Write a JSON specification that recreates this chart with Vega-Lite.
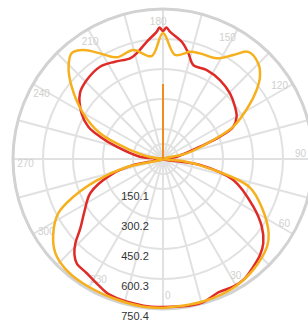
{
  "$schema": "https://vega.github.io/schema/vega-lite/v6.json",
  "width": 308,
  "height": 323,
  "autosize": {"type": "none"},
  "padding": 0,
  "background": "white",
  "config": {"view": {"stroke": null}},
  "datasets": {
    "rings": [
      {"value": 75.0, "label": ""},
      {"value": 150.1, "label": "150.1"},
      {"value": 300.2, "label": "300.2"},
      {"value": 450.2, "label": "450.2"},
      {"value": 600.3, "label": "600.3"},
      {"value": 750.4, "label": "750.4"}
    ],
    "spokes": [
      {"angle": 0, "r": 750.4}, {"angle": 15, "r": 750.4}, {"angle": 30, "r": 750.4}, {"angle": 45, "r": 750.4},
      {"angle": 60, "r": 750.4}, {"angle": 75, "r": 750.4}, {"angle": 90, "r": 750.4}, {"angle": 105, "r": 750.4},
      {"angle": 120, "r": 750.4}, {"angle": 135, "r": 750.4}, {"angle": 150, "r": 750.4}, {"angle": 165, "r": 750.4},
      {"angle": 180, "r": 750.4}, {"angle": 195, "r": 750.4}, {"angle": 210, "r": 750.4}, {"angle": 225, "r": 750.4},
      {"angle": 240, "r": 750.4}, {"angle": 255, "r": 750.4}, {"angle": 270, "r": 750.4}, {"angle": 285, "r": 750.4},
      {"angle": 300, "r": 750.4}, {"angle": 315, "r": 750.4}, {"angle": 330, "r": 750.4}, {"angle": 345, "r": 750.4}
    ],
    "angleLabels": [
      {"angle": 0, "label": "0"}, {"angle": 30, "label": "30"}, {"angle": 60, "label": "60"},
      {"angle": 90, "label": "90"}, {"angle": 120, "label": "120"}, {"angle": 150, "label": "150"},
      {"angle": 180, "label": "180"}, {"angle": 210, "label": "210"}, {"angle": 240, "label": "240"},
      {"angle": 270, "label": "270"}, {"angle": 300, "label": "300"}, {"angle": 330, "label": "330"}
    ],
    "curves": [
      {"series": "C0-180", "angle": 0, "value": 740},
      {"series": "C0-180", "angle": 9, "value": 745},
      {"series": "C0-180", "angle": 15, "value": 745},
      {"series": "C0-180", "angle": 23, "value": 722},
      {"series": "C0-180", "angle": 29, "value": 729},
      {"series": "C0-180", "angle": 34.5, "value": 724},
      {"series": "C0-180", "angle": 40, "value": 703},
      {"series": "C0-180", "angle": 45.3, "value": 683},
      {"series": "C0-180", "angle": 50, "value": 655},
      {"series": "C0-180", "angle": 55.6, "value": 599},
      {"series": "C0-180", "angle": 62.2, "value": 511},
      {"series": "C0-180", "angle": 73.4, "value": 367},
      {"series": "C0-180", "angle": 80.8, "value": 188},
      {"series": "C0-180", "angle": 90, "value": 0},
      {"series": "C0-180", "angle": 99.5, "value": 70},
      {"series": "C0-180", "angle": 108.4, "value": 195},
      {"series": "C0-180", "angle": 111.4, "value": 306},
      {"series": "C0-180", "angle": 114.7, "value": 387},
      {"series": "C0-180", "angle": 119.9, "value": 425},
      {"series": "C0-180", "angle": 126, "value": 445},
      {"series": "C0-180", "angle": 134.4, "value": 469},
      {"series": "C0-180", "angle": 144.2, "value": 487},
      {"series": "C0-180", "angle": 153.8, "value": 496},
      {"series": "C0-180", "angle": 162.1, "value": 494},
      {"series": "C0-180", "angle": 166.5, "value": 544},
      {"series": "C0-180", "angle": 170.9, "value": 594},
      {"series": "C0-180", "angle": 176.9, "value": 638},
      {"series": "C0-180", "angle": 178.5, "value": 658},
      {"series": "C0-180", "angle": 180, "value": 640},
      {"series": "C0-180", "angle": 181.5, "value": 658},
      {"series": "C0-180", "angle": 182.8, "value": 638},
      {"series": "C0-180", "angle": 187.9, "value": 592},
      {"series": "C0-180", "angle": 194, "value": 545},
      {"series": "C0-180", "angle": 198.1, "value": 530},
      {"series": "C0-180", "angle": 206.3, "value": 543},
      {"series": "C0-180", "angle": 214.3, "value": 559},
      {"series": "C0-180", "angle": 224, "value": 549},
      {"series": "C0-180", "angle": 231.6, "value": 530},
      {"series": "C0-180", "angle": 240.7, "value": 467},
      {"series": "C0-180", "angle": 246.6, "value": 407},
      {"series": "C0-180", "angle": 250.5, "value": 334},
      {"series": "C0-180", "angle": 255.1, "value": 240},
      {"series": "C0-180", "angle": 264.3, "value": 116},
      {"series": "C0-180", "angle": 270, "value": 0},
      {"series": "C0-180", "angle": 281.4, "value": 150},
      {"series": "C0-180", "angle": 287, "value": 275},
      {"series": "C0-180", "angle": 295, "value": 400},
      {"series": "C0-180", "angle": 304, "value": 475},
      {"series": "C0-180", "angle": 310, "value": 540},
      {"series": "C0-180", "angle": 314, "value": 610},
      {"series": "C0-180", "angle": 317, "value": 650},
      {"series": "C0-180", "angle": 320.4, "value": 677},
      {"series": "C0-180", "angle": 326.3, "value": 687},
      {"series": "C0-180", "angle": 331.9, "value": 705},
      {"series": "C0-180", "angle": 338.7, "value": 730},
      {"series": "C0-180", "angle": 352.4, "value": 740},
      {"series": "C0-180", "angle": 360, "value": 740},
      {"series": "C90-270", "angle": 0, "value": 745},
      {"series": "C90-270", "angle": 10, "value": 740},
      {"series": "C90-270", "angle": 17, "value": 740},
      {"series": "C90-270", "angle": 28, "value": 735},
      {"series": "C90-270", "angle": 39, "value": 715},
      {"series": "C90-270", "angle": 50, "value": 680},
      {"series": "C90-270", "angle": 55, "value": 645},
      {"series": "C90-270", "angle": 63, "value": 560},
      {"series": "C90-270", "angle": 72, "value": 455},
      {"series": "C90-270", "angle": 78, "value": 255},
      {"series": "C90-270", "angle": 84, "value": 100},
      {"series": "C90-270", "angle": 90, "value": 0},
      {"series": "C90-270", "angle": 103.5, "value": 122},
      {"series": "C90-270", "angle": 110.7, "value": 269},
      {"series": "C90-270", "angle": 114.7, "value": 387},
      {"series": "C90-270", "angle": 121.5, "value": 500},
      {"series": "C90-270", "angle": 126.4, "value": 582},
      {"series": "C90-270", "angle": 130.3, "value": 636},
      {"series": "C90-270", "angle": 135.1, "value": 675},
      {"series": "C90-270", "angle": 141.5, "value": 685},
      {"series": "C90-270", "angle": 145.9, "value": 628},
      {"series": "C90-270", "angle": 151.9, "value": 571},
      {"series": "C90-270", "angle": 160.7, "value": 560},
      {"series": "C90-270", "angle": 165.9, "value": 553},
      {"series": "C90-270", "angle": 173.4, "value": 524},
      {"series": "C90-270", "angle": 180, "value": 630},
      {"series": "C90-270", "angle": 186.3, "value": 518},
      {"series": "C90-270", "angle": 195.2, "value": 565},
      {"series": "C90-270", "angle": 204.5, "value": 559},
      {"series": "C90-270", "angle": 210.8, "value": 615},
      {"series": "C90-270", "angle": 216.2, "value": 675},
      {"series": "C90-270", "angle": 220.8, "value": 699},
      {"series": "C90-270", "angle": 225.7, "value": 660},
      {"series": "C90-270", "angle": 231.6, "value": 583},
      {"series": "C90-270", "angle": 240.2, "value": 460},
      {"series": "C90-270", "angle": 247.8, "value": 340},
      {"series": "C90-270", "angle": 253.6, "value": 190},
      {"series": "C90-270", "angle": 262, "value": 60},
      {"series": "C90-270", "angle": 270, "value": 0},
      {"series": "C90-270", "angle": 283, "value": 200},
      {"series": "C90-270", "angle": 288, "value": 350},
      {"series": "C90-270", "angle": 292.8, "value": 485},
      {"series": "C90-270", "angle": 297.4, "value": 590},
      {"series": "C90-270", "angle": 304.1, "value": 663},
      {"series": "C90-270", "angle": 311.1, "value": 715},
      {"series": "C90-270", "angle": 318.1, "value": 735},
      {"series": "C90-270", "angle": 327, "value": 740},
      {"series": "C90-270", "angle": 340, "value": 740},
      {"series": "C90-270", "angle": 352, "value": 745},
      {"series": "C90-270", "angle": 360, "value": 745}
    ],
    "spike": [{"angle": 180, "value": 375}]
  },
  "layer": [
    {
      "data": {"name": "spokes"},
      "transform": [
        {"calculate": "0", "as": "ox"},
        {"calculate": "datum.r*sin(datum.angle*PI/180)", "as": "sx"},
        {"calculate": "-datum.r*cos(datum.angle*PI/180)", "as": "sy"}
      ],
      "mark": {"type": "rule", "color": "#e1e1e1", "strokeWidth": 2},
      "encoding": {
        "x": {"field": "ox", "type": "quantitative", "scale": {"domain": [-815.4, 725.4], "nice": false, "zero": false}, "axis": null},
        "y": {"field": "ox", "type": "quantitative", "scale": {"domain": [-820.4, 795.4], "nice": false, "zero": false}, "axis": null},
        "x2": {"field": "sx"},
        "y2": {"field": "sy"}
      }
    },
    {
      "data": {"name": "rings"},
      "transform": [{"filter": "datum.value < 700"}, {"calculate": "0", "as": "ox"}],
      "mark": {"type": "point", "shape": "circle", "filled": false, "color": "#e1e1e1", "strokeWidth": 2, "opacity": 1},
      "encoding": {
        "x": {"field": "ox", "type": "quantitative"},
        "y": {"field": "ox", "type": "quantitative"},
        "size": {"field": "value", "type": "quantitative", "scale": {"type": "pow", "exponent": 2, "domain": [0, 750.4], "range": [0, 90000]}, "legend": null}
      }
    },
    {
      "data": {"name": "rings"},
      "transform": [{"filter": "datum.value > 700"}, {"calculate": "0", "as": "ox"}],
      "mark": {"type": "point", "shape": "circle", "filled": false, "color": "#d2d2d2", "strokeWidth": 3, "opacity": 1},
      "encoding": {
        "x": {"field": "ox", "type": "quantitative"},
        "y": {"field": "ox", "type": "quantitative"},
        "size": {"field": "value", "type": "quantitative", "scale": {"type": "pow", "exponent": 2, "domain": [0, 750.4], "range": [0, 90000]}, "legend": null}
      }
    },
    {
      "data": {"name": "angleLabels"},
      "transform": [
        {"calculate": "688*sin((datum.angle+2)*PI/180)", "as": "lx"},
        {"calculate": "-688*cos((datum.angle+2)*PI/180)", "as": "ly"}
      ],
      "mark": {"type": "text", "font": "Liberation Sans", "fontSize": 10, "color": "#cfcfcf", "align": "center", "baseline": "middle"},
      "encoding": {
        "x": {"field": "lx", "type": "quantitative"},
        "y": {"field": "ly", "type": "quantitative"},
        "text": {"field": "label"}
      }
    },
    {
      "data": {"name": "curves"},
      "transform": [
        {"calculate": "datum.value*sin(datum.angle*PI/180)", "as": "px"},
        {"calculate": "-datum.value*cos(datum.angle*PI/180)", "as": "py"}
      ],
      "mark": {"type": "line", "interpolate": "catmull-rom", "strokeWidth": 2.5},
      "encoding": {
        "x": {"field": "px", "type": "quantitative"},
        "y": {"field": "py", "type": "quantitative"},
        "order": {"field": "angle", "type": "quantitative"},
        "color": {"field": "series", "type": "nominal", "scale": {"domain": ["C0-180", "C90-270"], "range": ["#df2b27", "#f6b01e"]}, "legend": null}
      }
    },
    {
      "data": {"name": "spike"},
      "transform": [
        {"calculate": "0", "as": "ox"},
        {"calculate": "datum.value*sin(datum.angle*PI/180)", "as": "sx"},
        {"calculate": "-datum.value*cos(datum.angle*PI/180)", "as": "sy"}
      ],
      "mark": {"type": "rule", "color": "#f28c1c", "strokeWidth": 2},
      "encoding": {
        "x": {"field": "ox", "type": "quantitative"},
        "y": {"field": "ox", "type": "quantitative"},
        "x2": {"field": "sx"},
        "y2": {"field": "sy"}
      }
    },
    {
      "data": {"name": "rings"},
      "transform": [
        {"filter": "datum.label != ''"},
        {"calculate": "0", "as": "ox"},
        {"calculate": "-datum.value", "as": "ly"}
      ],
      "mark": {"type": "text", "font": "Liberation Sans", "fontSize": 11, "color": "#333333", "align": "center", "baseline": "middle", "dx": -28, "dy": 8},
      "encoding": {
        "x": {"field": "ox", "type": "quantitative"},
        "y": {"field": "ly", "type": "quantitative"},
        "text": {"field": "label"}
      }
    }
  ]
}
